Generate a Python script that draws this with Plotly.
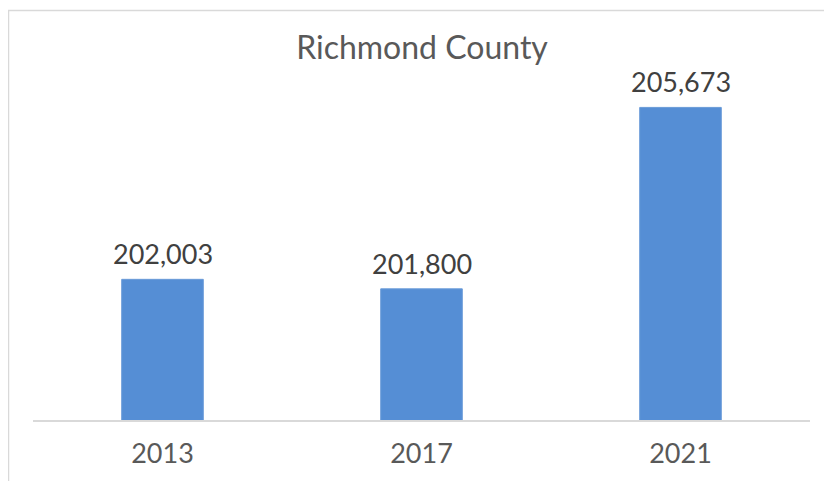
import plotly.graph_objects as go

years = ["2013", "2017", "2021"]
population = [202003, 201800, 205673]
labels = ["202,003", "201,800", "205,673"]

# page body has an 8px offset; work in figure coordinates
OFF = 8
W, H = 832 - OFF, 481 - OFF
ml, mr, mt, mb = 33 - OFF, 22, 64 - OFF, 55
pw = W - ml - mr
ph = H - mt - mb

def px2paper_x(px):
    return (px - OFF - ml) / pw

def px2paper_y(py):
    return (H - mb - (py - OFF)) / ph

fig = go.Figure(
    go.Bar(
        x=years,
        y=population,
        marker=dict(color="#558ED5", line=dict(color="#6A9BD8", width=1)),
        width=0.315,
        hoverinfo="x+y",
    )
)

# category axis: annotations positioned by category index
annotations = [
    dict(
        x=i,
        y=val,
        xref="x",
        yref="y",
        text=lab,
        showarrow=False,
        yanchor="bottom",
        yshift=7,
        font=dict(family="Lato", size=27, color="#404040"),
    )
    for i, (val, lab) in enumerate(zip(population, labels))
]

fig.update_layout(
    width=W,
    height=H,
    margin=dict(l=ml, r=mr, t=mt, b=mb),
    paper_bgcolor="white",
    plot_bgcolor="white",
    showlegend=False,
    annotations=annotations,
    title=dict(
        text="Richmond County",
        x=(422 - OFF) / W,
        xanchor="center",
        y=1 - (48 - OFF) / H,
        yanchor="middle",
        font=dict(family="Lato", size=32, color="#595959"),
    ),
    xaxis=dict(
        type="category",
        range=[-0.5, len(years) - 0.5],
        showline=True,
        linecolor="#D9D9D9",
        linewidth=1.5,
        ticks="",
        ticklabelstandoff=9,
        tickfont=dict(family="Lato", size=27, color="#595959"),
        showgrid=False,
        zeroline=False,
    ),
    yaxis=dict(
        range=[199000, 206600],
        visible=False,
        showgrid=False,
        zeroline=False,
    ),
    shapes=[
        dict(
            type="rect",
            xref="paper",
            yref="paper",
            x0=px2paper_x(8.5),
            x1=px2paper_x(850),
            y0=px2paper_y(500),
            y1=px2paper_y(9.5),
            line=dict(color="#D9D9D9", width=1.5),
            fillcolor="rgba(0,0,0,0)",
            layer="below",
        )
    ],
)

fig.write_html("out.html")
